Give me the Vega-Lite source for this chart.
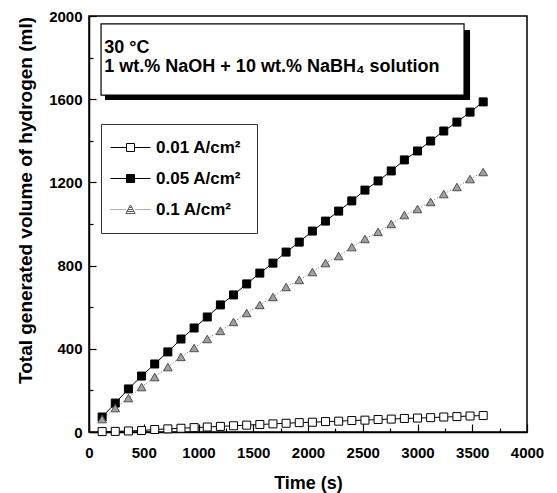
{
  "$schema": "https://vega.github.io/schema/vega-lite/v6.json",
  "width": 438,
  "height": 416,
  "autosize": {"type": "none"},
  "padding": {"left": 89, "top": 16, "right": 30, "bottom": 61},
  "background": "white",
  "config": {
    "view": {"stroke": "black", "strokeWidth": 1.5},
    "font": "Liberation Sans",
    "axis": {
      "grid": false,
      "domainColor": "black",
      "domainWidth": 1.5,
      "tickColor": "black",
      "tickWidth": 1.2,
      "labelFont": "Liberation Sans",
      "labelFontWeight": "bold",
      "labelFontSize": 15,
      "labelColor": "black",
      "labelFlush": false,
      "labelOverlap": false,
      "titleFont": "Liberation Sans",
      "titleFontWeight": "bold",
      "titleColor": "black"
    }
  },
  "datasets": {
    "h2": [
      {"t": 120, "v": 2, "series": "0.01 A/cm²"},
      {"t": 240, "v": 3, "series": "0.01 A/cm²"},
      {"t": 360, "v": 5, "series": "0.01 A/cm²"},
      {"t": 480, "v": 7, "series": "0.01 A/cm²"},
      {"t": 600, "v": 12, "series": "0.01 A/cm²"},
      {"t": 720, "v": 15, "series": "0.01 A/cm²"},
      {"t": 840, "v": 18, "series": "0.01 A/cm²"},
      {"t": 960, "v": 21, "series": "0.01 A/cm²"},
      {"t": 1080, "v": 24, "series": "0.01 A/cm²"},
      {"t": 1200, "v": 27, "series": "0.01 A/cm²"},
      {"t": 1320, "v": 30, "series": "0.01 A/cm²"},
      {"t": 1440, "v": 33, "series": "0.01 A/cm²"},
      {"t": 1560, "v": 36, "series": "0.01 A/cm²"},
      {"t": 1680, "v": 39, "series": "0.01 A/cm²"},
      {"t": 1800, "v": 42, "series": "0.01 A/cm²"},
      {"t": 1920, "v": 45, "series": "0.01 A/cm²"},
      {"t": 2040, "v": 47, "series": "0.01 A/cm²"},
      {"t": 2160, "v": 50, "series": "0.01 A/cm²"},
      {"t": 2280, "v": 52, "series": "0.01 A/cm²"},
      {"t": 2400, "v": 55, "series": "0.01 A/cm²"},
      {"t": 2520, "v": 57, "series": "0.01 A/cm²"},
      {"t": 2640, "v": 60, "series": "0.01 A/cm²"},
      {"t": 2760, "v": 62, "series": "0.01 A/cm²"},
      {"t": 2880, "v": 65, "series": "0.01 A/cm²"},
      {"t": 3000, "v": 67, "series": "0.01 A/cm²"},
      {"t": 3120, "v": 69, "series": "0.01 A/cm²"},
      {"t": 3240, "v": 72, "series": "0.01 A/cm²"},
      {"t": 3360, "v": 74, "series": "0.01 A/cm²"},
      {"t": 3480, "v": 77, "series": "0.01 A/cm²"},
      {"t": 3600, "v": 79, "series": "0.01 A/cm²"},
      {"t": 120, "v": 72, "series": "0.05 A/cm²"},
      {"t": 240, "v": 139, "series": "0.05 A/cm²"},
      {"t": 360, "v": 207, "series": "0.05 A/cm²"},
      {"t": 480, "v": 269, "series": "0.05 A/cm²"},
      {"t": 600, "v": 327, "series": "0.05 A/cm²"},
      {"t": 720, "v": 385, "series": "0.05 A/cm²"},
      {"t": 840, "v": 447, "series": "0.05 A/cm²"},
      {"t": 960, "v": 500, "series": "0.05 A/cm²"},
      {"t": 1080, "v": 553, "series": "0.05 A/cm²"},
      {"t": 1200, "v": 611, "series": "0.05 A/cm²"},
      {"t": 1320, "v": 659, "series": "0.05 A/cm²"},
      {"t": 1440, "v": 712, "series": "0.05 A/cm²"},
      {"t": 1560, "v": 764, "series": "0.05 A/cm²"},
      {"t": 1680, "v": 812, "series": "0.05 A/cm²"},
      {"t": 1800, "v": 865, "series": "0.05 A/cm²"},
      {"t": 1920, "v": 913, "series": "0.05 A/cm²"},
      {"t": 2040, "v": 966, "series": "0.05 A/cm²"},
      {"t": 2160, "v": 1014, "series": "0.05 A/cm²"},
      {"t": 2280, "v": 1062, "series": "0.05 A/cm²"},
      {"t": 2400, "v": 1111, "series": "0.05 A/cm²"},
      {"t": 2520, "v": 1163, "series": "0.05 A/cm²"},
      {"t": 2640, "v": 1207, "series": "0.05 A/cm²"},
      {"t": 2760, "v": 1255, "series": "0.05 A/cm²"},
      {"t": 2880, "v": 1308, "series": "0.05 A/cm²"},
      {"t": 3000, "v": 1351, "series": "0.05 A/cm²"},
      {"t": 3120, "v": 1399, "series": "0.05 A/cm²"},
      {"t": 3240, "v": 1447, "series": "0.05 A/cm²"},
      {"t": 3360, "v": 1490, "series": "0.05 A/cm²"},
      {"t": 3480, "v": 1538, "series": "0.05 A/cm²"},
      {"t": 3600, "v": 1587, "series": "0.05 A/cm²"},
      {"t": 120, "v": 62, "series": "0.1 A/cm²"},
      {"t": 240, "v": 115, "series": "0.1 A/cm²"},
      {"t": 360, "v": 163, "series": "0.1 A/cm²"},
      {"t": 480, "v": 216, "series": "0.1 A/cm²"},
      {"t": 600, "v": 264, "series": "0.1 A/cm²"},
      {"t": 720, "v": 312, "series": "0.1 A/cm²"},
      {"t": 840, "v": 361, "series": "0.1 A/cm²"},
      {"t": 960, "v": 404, "series": "0.1 A/cm²"},
      {"t": 1080, "v": 447, "series": "0.1 A/cm²"},
      {"t": 1200, "v": 486, "series": "0.1 A/cm²"},
      {"t": 1320, "v": 529, "series": "0.1 A/cm²"},
      {"t": 1440, "v": 572, "series": "0.1 A/cm²"},
      {"t": 1560, "v": 611, "series": "0.1 A/cm²"},
      {"t": 1680, "v": 649, "series": "0.1 A/cm²"},
      {"t": 1800, "v": 697, "series": "0.1 A/cm²"},
      {"t": 1920, "v": 731, "series": "0.1 A/cm²"},
      {"t": 2040, "v": 769, "series": "0.1 A/cm²"},
      {"t": 2160, "v": 812, "series": "0.1 A/cm²"},
      {"t": 2280, "v": 846, "series": "0.1 A/cm²"},
      {"t": 2400, "v": 889, "series": "0.1 A/cm²"},
      {"t": 2520, "v": 928, "series": "0.1 A/cm²"},
      {"t": 2640, "v": 962, "series": "0.1 A/cm²"},
      {"t": 2760, "v": 1000, "series": "0.1 A/cm²"},
      {"t": 2880, "v": 1043, "series": "0.1 A/cm²"},
      {"t": 3000, "v": 1072, "series": "0.1 A/cm²"},
      {"t": 3120, "v": 1106, "series": "0.1 A/cm²"},
      {"t": 3240, "v": 1144, "series": "0.1 A/cm²"},
      {"t": 3360, "v": 1178, "series": "0.1 A/cm²"},
      {"t": 3480, "v": 1216, "series": "0.1 A/cm²"},
      {"t": 3600, "v": 1250, "series": "0.1 A/cm²"}
    ],
    "shadow": [{"x1": 146, "x2": 3480, "y1": 1596, "y2": 1933}],
    "box": [{"x1": 110, "x2": 3425, "y1": 1620, "y2": 1962}],
    "notes": [
      {"t": 140, "v": 1821, "label": "30 °C"},
      {"t": 140, "v": 1730, "label": "1 wt.% NaOH + 10 wt.% NaBH₄ solution"}
    ]
  },
  "layer": [
    {
      "data": {"name": "shadow"},
      "mark": {"type": "rect", "fill": "black"},
      "encoding": {
        "x": {"field": "x1", "type": "quantitative", "scale": {"domain": [0, 4000], "nice": false}, "axis": null},
        "x2": {"field": "x2"},
        "y": {"field": "y1", "type": "quantitative", "scale": {"domain": [0, 2000], "nice": false}, "axis": null},
        "y2": {"field": "y2"}
      }
    },
    {
      "data": {"name": "box"},
      "mark": {"type": "rect", "fill": "white", "stroke": "black", "strokeWidth": 1.2},
      "encoding": {
        "x": {"field": "x1", "type": "quantitative", "scale": {"domain": [0, 4000], "nice": false}, "axis": null},
        "x2": {"field": "x2"},
        "y": {"field": "y1", "type": "quantitative", "scale": {"domain": [0, 2000], "nice": false}, "axis": null},
        "y2": {"field": "y2"}
      }
    },
    {
      "data": {"name": "notes"},
      "mark": {"type": "text", "align": "left", "baseline": "alphabetic", "font": "Liberation Sans", "fontWeight": "bold", "fontSize": 18, "color": "black"},
      "encoding": {
        "x": {"field": "t", "type": "quantitative", "scale": {"domain": [0, 4000], "nice": false}, "axis": null},
        "y": {"field": "v", "type": "quantitative", "scale": {"domain": [0, 2000], "nice": false}, "axis": null},
        "text": {"field": "label"}
      }
    },
    {
      "data": {"name": "h2"},
      "transform": [{"filter": "datum.series === '0.01 A/cm²'"}],
      "mark": {"type": "line", "strokeWidth": 1, "stroke": "black"},
      "encoding": {
        "x": {
          "field": "t", "type": "quantitative",
          "scale": {"domain": [0, 4000], "nice": false},
          "axis": {"orient": "bottom", "values": [0, 500, 1000, 1500, 2000, 2500, 3000, 3500, 4000], "tickSize": -8, "labelPadding": 21, "format": "d", "title": "Time (s)", "titleFontSize": 18, "titleY": 42, "titleBaseline": "top"}
        },
        "y": {
          "field": "v", "type": "quantitative",
          "scale": {"domain": [0, 2000], "nice": false},
          "axis": {"orient": "left", "values": [0, 400, 800, 1200, 1600, 2000], "tickSize": -7, "labelPadding": 14, "format": "d", "title": "Total generated volume of hydrogen (ml)", "titleFontSize": 19, "titleX": -64, "titleY": 184, "titleAngle": -90, "titleAlign": "center", "titleBaseline": "middle"}
        }
      }
    },
    {
      "data": {"name": "h2"},
      "transform": [{"filter": "datum.series === '0.05 A/cm²'"}],
      "mark": {"type": "line", "strokeWidth": 1, "stroke": "black"},
      "encoding": {
        "x": {"field": "t", "type": "quantitative", "scale": {"domain": [0, 4000], "nice": false}, "axis": null},
        "y": {"field": "v", "type": "quantitative", "scale": {"domain": [0, 2000], "nice": false}, "axis": null}
      }
    },
    {
      "data": {"name": "h2"},
      "transform": [{"filter": "datum.series === '0.1 A/cm²'"}],
      "mark": {"type": "line", "strokeWidth": 1, "stroke": "#707070", "strokeDash": [1, 2]},
      "encoding": {
        "x": {"field": "t", "type": "quantitative", "scale": {"domain": [0, 4000], "nice": false}, "axis": null},
        "y": {"field": "v", "type": "quantitative", "scale": {"domain": [0, 2000], "nice": false}, "axis": null}
      }
    },
    {
      "data": {"name": "h2"},
      "transform": [{"filter": "datum.series === '0.01 A/cm²'"}],
      "mark": {"type": "point", "shape": "square", "filled": true, "fill": "white", "stroke": "black", "size": 64, "strokeWidth": 1, "opacity": 1},
      "encoding": {
        "x": {
          "field": "t", "type": "quantitative",
          "scale": {"domain": [0, 4000], "nice": false},
          "axis": {"orient": "bottom", "values": [250, 750, 1250, 1750, 2250, 2750, 3250, 3750], "tickSize": -4, "labels": false, "domain": false, "title": null}
        },
        "y": {
          "field": "v", "type": "quantitative",
          "scale": {"domain": [0, 2000], "nice": false},
          "axis": {"orient": "left", "values": [200, 600, 1000, 1400, 1800], "tickSize": -4, "labels": false, "domain": false, "title": null}
        }
      }
    },
    {
      "data": {"name": "h2"},
      "transform": [{"filter": "datum.series === '0.05 A/cm²'"}],
      "mark": {"type": "point", "shape": "square", "filled": true, "fill": "black", "stroke": "black", "size": 64, "strokeWidth": 1, "opacity": 1},
      "encoding": {
        "x": {"field": "t", "type": "quantitative", "scale": {"domain": [0, 4000], "nice": false}, "axis": null},
        "y": {"field": "v", "type": "quantitative", "scale": {"domain": [0, 2000], "nice": false}, "axis": null}
      }
    },
    {
      "data": {"name": "h2"},
      "transform": [{"filter": "datum.series === '0.1 A/cm²'"}],
      "mark": {"type": "point", "shape": "triangle-up", "filled": true, "fill": "#a0a0a0", "stroke": "#505050", "size": 75, "strokeWidth": 1, "opacity": 1},
      "encoding": {
        "x": {"field": "t", "type": "quantitative", "scale": {"domain": [0, 4000], "nice": false}, "axis": null},
        "y": {"field": "v", "type": "quantitative", "scale": {"domain": [0, 2000], "nice": false}, "axis": null}
      }
    },
    {
      "data": {"name": "h2"},
      "mark": {"type": "point", "filled": true, "size": 64, "strokeWidth": 1, "opacity": 0},
      "encoding": {
        "x": {"field": "t", "type": "quantitative", "scale": {"domain": [0, 4000], "nice": false}, "axis": null},
        "y": {"field": "v", "type": "quantitative", "scale": {"domain": [0, 2000], "nice": false}, "axis": null},
        "fill": {"field": "series", "type": "nominal", "scale": {"domain": ["0.01 A/cm²", "0.05 A/cm²", "0.1 A/cm²"], "range": ["white", "black", "#a0a0a0"]}},
        "stroke": {"field": "series", "type": "nominal", "scale": {"domain": ["0.01 A/cm²", "0.05 A/cm²", "0.1 A/cm²"], "range": ["black", "black", "#606060"]}},
        "shape": {
          "field": "series", "type": "nominal",
          "scale": {
            "domain": ["0.01 A/cm²", "0.05 A/cm²", "0.1 A/cm²"],
            "range": [
              "M-5,0H-1M1,0H5M-1,-1H1V1H-1Z",
              "M-5,0H-1M1,0H5M-1,-1H1V1H-1ZM-1,-0.75H1M-1,-0.5H1M-1,-0.25H1M-1,0H1M-1,0.25H1M-1,0.5H1M-1,0.75H1",
              "M-5,0h0.25M-4.5,0h0.25M-4,0h0.25M-3.5,0h0.25M-3,0h0.25M-2.5,0h0.25M-2,0h0.25M-1.5,0h0.25M1.25,0h0.25M1.75,0h0.25M2.25,0h0.25M2.75,0h0.25M3.25,0h0.25M3.75,0h0.25M4.25,0h0.25M4.75,0h0.25M0,-1.15L1.15,1L-1.15,1ZM-0.35,-0.5H0.35M-0.62,0H0.62M-0.88,0.5H0.88"
            ]
          },
          "legend": {
            "orient": "none", "legendX": 12, "legendY": 108,
            "title": null,
            "strokeColor": "#333333", "fillColor": "white",
            "padding": 15, "rowPadding": 13,
            "symbolSize": 64, "symbolOffset": 6, "labelOffset": 17,
            "symbolStrokeWidth": 1,
            "labelFont": "Liberation Sans", "labelFontWeight": "bold", "labelFontSize": 17, "labelColor": "black"
          }
        }
      }
    }
  ],
  "resolve": {"axis": {"x": "independent", "y": "independent"}}
}
